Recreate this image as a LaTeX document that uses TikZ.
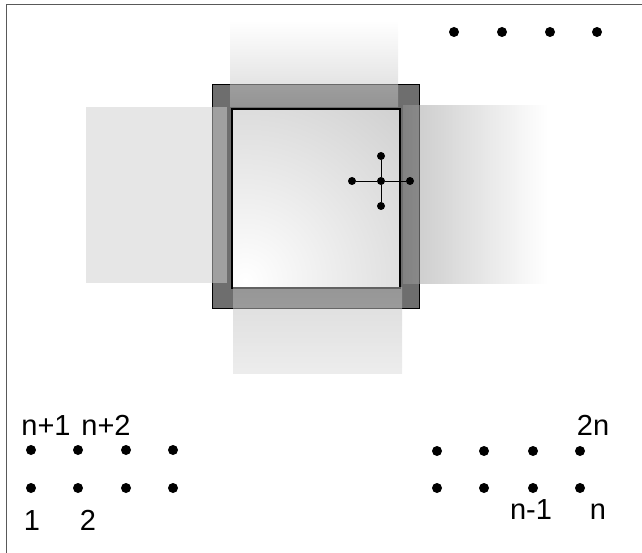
\documentclass[tikz,border=0pt]{standalone}
\usepackage{fontspec}
\setmainfont{Liberation Sans}
\begin{document}
\begin{tikzpicture}[x=1pt,y=-1pt,
  blob/.style={circle,fill=black,inner sep=0pt,minimum size=10pt},
  lbl/.style={inner sep=0pt,anchor=base,font=\fontsize{29}{32}\selectfont},
  band/.style={opacity=.52}]
  \useasboundingbox (0,0) rectangle (642,553);
  \draw[black!65,line width=1pt] (6,553)--(6,5)--(642,5);
  % frame and window
  \filldraw[fill=black!57,draw=black,line width=.8pt] (212,84) rectangle (419,308);
  \begin{scope}
    \clip (232,109) rectangle (400,288);
    \shade[inner color=white,outer color=black!23] (245,280) circle (290);
  \end{scope}
  \draw[line width=2.5pt] (232,109) rectangle (400,288);
  % bands
  \shade[band,top color=white,bottom color=black!28] (230,21) rectangle (398,107);
  \fill[band,black!19] (86,107) rectangle (227,283);
  \shade[band,left color=black!41,right color=white] (403,106) rectangle (547,283);
  \shade[band,top color=black!26,bottom color=black!14] (233,287) rectangle (402,373);
  % cross
  \node[blob,minimum size=8pt] (c) at (381,181) {};
  \node[blob,minimum size=8pt] (cn) at (381,156) {}; \node[blob,minimum size=8pt] (cs) at (381,206) {};
  \node[blob,minimum size=8pt] (cw) at (352,181) {}; \node[blob,minimum size=8pt] (ce) at (410,181) {};
  \draw[line width=.8pt] (cw)--(c)--(ce); \draw[line width=.8pt] (cn)--(c)--(cs);
  % dots
  \foreach \x [count=\i] in {454,502,550,597} \node[blob] (t\i) at (\x,32) {};
  \foreach \x [count=\i] in {31,78,126,173} {\node[blob] (a\i) at (\x,450) {}; \node[blob] (b\i) at (\x,488) {};}
  \foreach \x [count=\i] in {437,484,533,580} {\node[blob] (p\i) at (\x,451) {}; \node[blob] (q\i) at (\x,488) {};}
  % labels
  \node[lbl] (la1) at (46,435) {n+1}; \node[lbl] (la2) at (106,435) {n+2};
  \node[lbl] (lb1) at (32,530) {1}; \node[lbl] (lb2) at (88,530) {2};
  \node[lbl] (lp4) at (593,435) {2n};
  \node[lbl] (lq3) at (531,519) {n-1}; \node[lbl] (lq4) at (598,519) {n};
\end{tikzpicture}
\end{document}
